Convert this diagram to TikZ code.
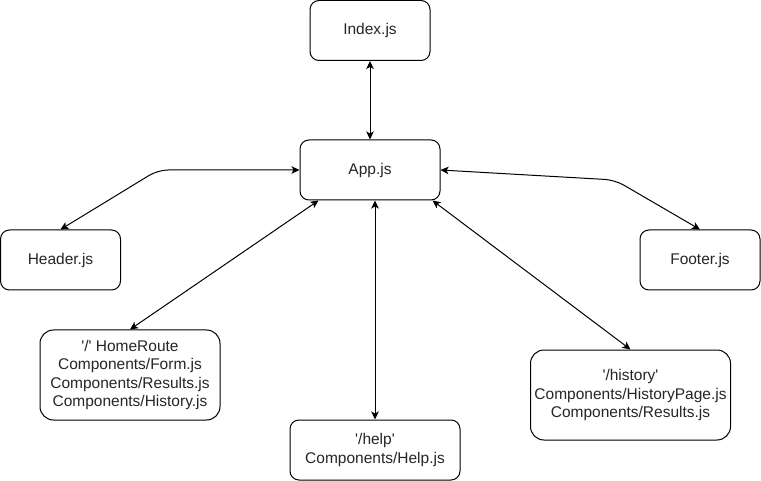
\documentclass[tikz,border=0pt]{standalone}
\usepackage{fontspec}
\setmainfont{Liberation Sans}
\usetikzlibrary{arrows.meta,calc}
\newcommand{\sq}{\textquotesingle}
\begin{document}
\begin{tikzpicture}[x=1pt,y=-1pt,
  box/.style={draw=black,line width=1pt,fill=white,align=center,inner sep=0pt,
    font=\fontsize{15.5pt}{18.3pt}\selectfont,text=black!85},
  sbox/.style={box,rounded corners=9pt,minimum height=60pt},
  tbox/.style={box,rounded corners=13.5pt,minimum height=90pt},
  link/.style={line width=1pt,{Stealth[length=8pt,width=7.5pt,inset=2pt]}-{Stealth[length=8pt,width=7.5pt,inset=2pt]}}]
\useasboundingbox (0,0) rectangle (761,481);
\node[sbox,minimum width=120pt] (index) at (370,30.5) {Index.js};
\node[sbox,minimum width=140pt] (app) at (370,170) {App.js};
\node[sbox,minimum width=120pt] (header) at (60.5,260) {Header.js};
\node[sbox,minimum width=120pt] (footer) at (700,260) {Footer.js};
\node[tbox,minimum width=180pt] (home) at (130,375) {\sq/\sq{} HomeRoute\\Components/Form.js\\Components/Results.js\\Components/History.js};
\node[sbox,minimum width=170pt] (help) at (375,450) {\sq/help\sq\\Components/Help.js};
\node[tbox,minimum width=200pt] (history) at (630.5,395) {\sq/history\sq\\Components/HistoryPage.js\\Components/Results.js};
\coordinate (hb) at (158,170);
\coordinate (fb) at (615,180);
\draw[link] (index.south) -- (app.north);
\draw[link,rounded corners=10pt] (header.north) -- (hb) -- (app.west);
\draw[link,rounded corners=10pt] (app.east) -- (fb) -- (footer.north);
\draw[link] (home.north) -- ($(app.south west)+(19,0)$);
\draw[link] (help.north) -- (help.north |- app.south);
\draw[link] (history.north) -- ($(app.south east)+(-8,0)$);
\end{tikzpicture}
\end{document}
